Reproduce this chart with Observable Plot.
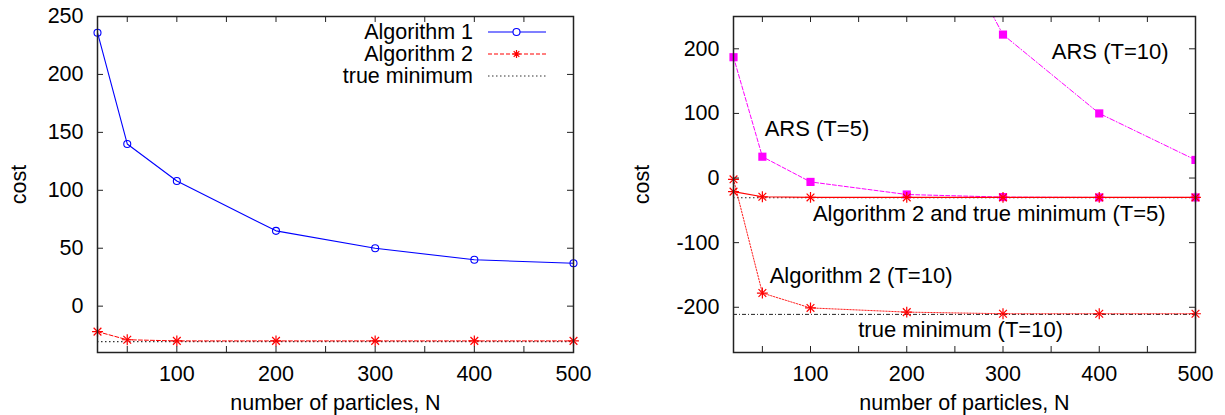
<!DOCTYPE html>
<html><head><meta charset="utf-8">
<script src="https://cdn.jsdelivr.net/npm/d3@7"></script>
<script src="https://cdn.jsdelivr.net/npm/@observablehq/plot@0.6"></script>
<style>
body{margin:0;background:#fff;font-family:"Liberation Sans",Arial,Helvetica,sans-serif;}
#wrap{position:relative;width:1225px;height:415px;overflow:hidden;background:#fff}
.panel{position:absolute;top:0}
.legend{position:absolute;left:297px;top:21px;width:250px}
.legend .row{display:flex;align-items:center;height:22px;justify-content:flex-end}
.legend .lab{font-size:21.5px;line-height:22px;color:#000;text-align:right;margin-right:14px;white-space:nowrap}
.legend svg{display:block}
</style></head><body>
<div id="wrap">
  <div id="left" class="panel" style="left:0"></div>
  <div id="right" class="panel" style="left:612px"></div>
  <div class="legend" id="legend"></div>
</div>
<script>
// ---------- data ----------
const N = [20, 50, 100, 200, 300, 400, 500];
// left panel
const alg1 = [236, 140, 108, 65, 50, 40, 37];
const alg2 = [-22, -29, -30, -30, -30, -30, -30];
const trueMinLeft = -30.6;
// right panel
const arsT5 = [187, 33, -6, -25.5, -29.5, -30, -30];
const arsT10N = [200, 300, 400, 500];
const arsT10 = [500, 222, 100, 28];
const alg2T5 = [-21, -29, -30, -30, -30, -30, -30];
const alg2T10 = [-2, -178, -201, -207.5, -210, -210, -210];
const trueMinT5 = -30.5;
const trueMinT10 = -211;
// tick values
const xMinorTicks = [50, 100, 150, 200, 250, 300, 350, 400, 450, 500];
const xLabelTicks = [100, 200, 300, 400, 500];
const yTicksLeft = [0, 50, 100, 150, 200, 250];
const yTicksRight = [-200, -100, 0, 100, 200];
// annotations (right panel, data space)
const annLabels = ["ARS (T=10)", "ARS (T=5)", "Algorithm 2 and true minimum (T=5)", "Algorithm 2 (T=10)", "true minimum (T=10)"];
const annN = [350.7, 52.4, 102.5, 57.6, 149.6];
const annCost = [194.7, 75.8, -55.3, -152, -234.8];

// ---------- helpers ----------
const FONT = '"Liberation Sans", Arial, Helvetica, sans-serif';
const H = 415, MT = 16, MB = 63;
const innerH = H - MT - MB;
const rows = (xs, ys) => xs.map((x, i) => ({x, y: ys[i]}));
const fmt = d => String(d);
const frameCol = "#222";

function tickMarks(xt, yt, innerW) {
  return [
    Plot.tickX(xt, {x: d => d, insetTop: innerH - 6, stroke: frameCol}),
    Plot.tickX(xt, {x: d => d, insetBottom: innerH - 6, stroke: frameCol}),
    Plot.tickY(yt, {y: d => d, insetRight: innerW - 6, stroke: frameCol}),
    Plot.tickY(yt, {y: d => d, insetLeft: innerW - 6, stroke: frameCol})
  ];
}
function asterisk(data, color, extra = {}) {
  return [
    Plot.dot(data, {x: "x", y: "y", symbol: "plus", r: 3.6, stroke: color, strokeWidth: 1.2, fill: "none", ...extra}),
    Plot.dot(data, {x: "x", y: "y", symbol: "times", r: 3.6, stroke: color, strokeWidth: 1.2, fill: "none", ...extra})
  ];
}
function axes(yt, ylabOffset) {
  return [
    Plot.axisX(xLabelTicks, {anchor: "bottom", tickSize: 0, tickPadding: 13, fontSize: 21.5, tickFormat: fmt,
      label: "number of particles, N", labelAnchor: "center", labelOffset: 57, labelArrow: "none"}),
    Plot.axisY(yt, {anchor: "left", tickSize: 0, tickPadding: 14, fontSize: 21.5, tickFormat: fmt,
      label: "cost", labelAnchor: "center", labelOffset: ylabOffset, labelArrow: "none"})
  ];
}

// ---------- left panel ----------
{
  const W = 612, ML = 97, MR = 39;
  const p = Plot.plot({
    width: W, height: H, marginLeft: ML, marginRight: MR, marginTop: MT, marginBottom: MB,
    style: {fontFamily: FONT, fontSize: "21.5px", color: "#000", background: "transparent", overflow: "visible"},
    x: {type: "linear", domain: [20, 500]},
    y: {type: "linear", domain: [-40, 250]},
    marks: [
      Plot.ruleY([trueMinLeft], {stroke: "#333", strokeWidth: 1.2, strokeDasharray: "1.5,2.5"}),
      Plot.line(rows(N, alg2), {x: "x", y: "y", stroke: "#ff0000", strokeWidth: 1, strokeDasharray: "4,2"}),
      ...asterisk(rows(N, alg2), "#ff0000"),
      Plot.line(rows(N, alg1), {x: "x", y: "y", stroke: "#0000ff", strokeWidth: 1.1}),
      Plot.dot(rows(N, alg1), {x: "x", y: "y", r: 3.5, stroke: "#0000ff", strokeWidth: 1.1, fill: "none"}),
      ...tickMarks(xMinorTicks, yTicksLeft, W - ML - MR),
      Plot.frame({stroke: frameCol, strokeWidth: 1.5}),
      ...axes(yTicksLeft, 87)
    ]
  });
  document.getElementById("left").appendChild(p);
}

// ---------- right panel ----------
{
  const W = 613, ML = 121, MR = 30;
  const p = Plot.plot({
    width: W, height: H, marginLeft: ML, marginRight: MR, marginTop: MT, marginBottom: MB,
    style: {fontFamily: FONT, fontSize: "21.5px", color: "#000", background: "transparent", overflow: "visible"},
    x: {type: "linear", domain: [20, 500]},
    y: {type: "linear", domain: [-270, 250]},
    marks: [
      Plot.ruleY([trueMinT5], {stroke: "#222", strokeWidth: 1.2, strokeDasharray: "1.5,2.5"}),
      Plot.ruleY([trueMinT10], {stroke: "#222", strokeWidth: 1, strokeDasharray: "4,2,1,2"}),
      Plot.line(rows(N, alg2T10), {x: "x", y: "y", stroke: "#ff2020", strokeWidth: 1, strokeDasharray: "1.5,1.5"}),
      ...asterisk(rows(N, alg2T10), "#ff0000"),
      Plot.line(rows(N, arsT5), {x: "x", y: "y", stroke: "#ff00ff", strokeWidth: 1, strokeDasharray: "4,2"}),
      Plot.dot(rows(N, arsT5), {x: "x", y: "y", symbol: "square", r: 4.6, fill: "#ff00ff", stroke: "none"}),
      Plot.line(rows(arsT10N, arsT10), {x: "x", y: "y", stroke: "#ff00ff", strokeWidth: 1, strokeDasharray: "5,2,1,2", clip: true}),
      Plot.dot(rows(arsT10N, arsT10), {x: "x", y: "y", symbol: "square", r: 4.6, fill: "#ff00ff", stroke: "none", clip: true}),
      Plot.line(rows(N, alg2T5), {x: "x", y: "y", stroke: "#ff0000", strokeWidth: 1.1}),
      ...asterisk(rows(N, alg2T5), "#ff0000"),
      Plot.text(annLabels.map((t, i) => ({t, x: annN[i], y: annCost[i]})),
        {x: "x", y: "y", text: "t", textAnchor: "start", lineAnchor: "middle", fontSize: 22, fill: "#000"}),
      ...tickMarks(xMinorTicks, yTicksRight, W - ML - MR),
      Plot.frame({stroke: frameCol, strokeWidth: 1.5}),
      ...axes(yTicksRight, 100)
    ]
  });
  document.getElementById("right").appendChild(p);
}

// ---------- legend (left panel) ----------
{
  const items = [
    {label: "Algorithm 1", color: "#0000ff", dash: null, marker: "circle"},
    {label: "Algorithm 2", color: "#ff0000", dash: "4,2", marker: "asterisk"},
    {label: "true minimum", color: "#333", dash: "1.5,2.5", marker: null}
  ];
  const leg = document.getElementById("legend");
  for (const it of items) {
    const row = document.createElement("div"); row.className = "row";
    const lab = document.createElement("span"); lab.className = "lab"; lab.textContent = it.label;
    row.appendChild(lab);
    const ns = "http://www.w3.org/2000/svg";
    const s = document.createElementNS(ns, "svg");
    s.setAttribute("width", 60); s.setAttribute("height", 22);
    const l = document.createElementNS(ns, "line");
    l.setAttribute("x1", 1); l.setAttribute("x2", 59); l.setAttribute("y1", 11); l.setAttribute("y2", 11);
    l.setAttribute("stroke", it.color); l.setAttribute("stroke-width", it.marker ? 1.1 : 1.2);
    if (it.dash) l.setAttribute("stroke-dasharray", it.dash);
    s.appendChild(l);
    if (it.marker === "circle") {
      const c = document.createElementNS(ns, "circle");
      c.setAttribute("cx", 29.5); c.setAttribute("cy", 11); c.setAttribute("r", 3.5);
      c.setAttribute("fill", "#fff"); c.setAttribute("stroke", it.color); c.setAttribute("stroke-width", 1.1);
      s.appendChild(c);
    } else if (it.marker === "asterisk") {
      const p = document.createElementNS(ns, "path");
      p.setAttribute("d", "M25.5,11h8M29.5,7v8M26.7,8.2l5.6,5.6M32.3,8.2l-5.6,5.6");
      p.setAttribute("stroke", it.color); p.setAttribute("stroke-width", 1.2); p.setAttribute("fill", "none");
      s.appendChild(p);
    }
    row.appendChild(s);
    leg.appendChild(row);
  }
}
</script>
</body></html>
